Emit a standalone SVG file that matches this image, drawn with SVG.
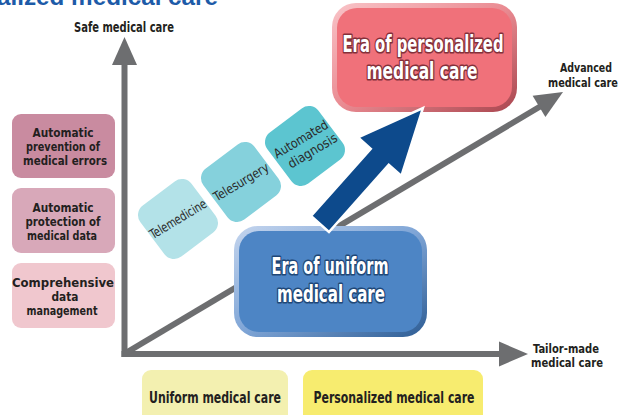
<svg xmlns="http://www.w3.org/2000/svg" width="625" height="415" viewBox="0 0 625 415">
<defs>
<style>
.t{font-family:"Liberation Sans Narrow","DejaVu Sans Condensed","Liberation Sans",Arial,sans-serif;font-weight:bold;fill:#231f20;text-anchor:middle}
.lb{font-size:12.5px}
.ax{stroke:#6d6e70;stroke-width:6;fill:none}
.ah{fill:#6d6e70}
.era{font-family:"Liberation Sans Narrow","DejaVu Sans Condensed","Liberation Sans",Arial,sans-serif;font-weight:bold;font-size:23px;fill:#ffffff;stroke-width:3.2;paint-order:stroke;stroke-linejoin:round;text-anchor:middle}
.cy{font-family:"Liberation Sans Narrow","DejaVu Sans Condensed","Liberation Sans",Arial,sans-serif;font-size:13px;fill:#2a2a2a;text-anchor:middle;dominant-baseline:central}
</style>
<linearGradient id="pinkRim" x1="0" y1="0" x2="1" y2="1">
<stop offset="0" stop-color="#f9c4c8"/><stop offset="0.5" stop-color="#e98a91"/><stop offset="1" stop-color="#a9464f"/>
</linearGradient>
<linearGradient id="blueRim" x1="0" y1="0" x2="1" y2="1">
<stop offset="0" stop-color="#c4d5ee"/><stop offset="0.5" stop-color="#7fa5d6"/><stop offset="1" stop-color="#2e5d94"/>
</linearGradient>
</defs>
<rect width="625" height="415" fill="#ffffff"/>

<text x="-3" y="5" font-family="'Liberation Sans Narrow','Liberation Sans',Arial,sans-serif" font-weight="bold" font-size="24" fill="#1d5ba8" textLength="221" lengthAdjust="spacingAndGlyphs">alized medical care</text>

<g id="connectors">
<line class="ax" x1="124.5" y1="357" x2="124.5" y2="63"/>
<polygon class="ah" points="112,65 124.5,37 137,65"/>
<line class="ax" x1="121.5" y1="354" x2="500" y2="354"/>
<polygon class="ah" points="499,341.5 528,354 499,366.5"/>
<line class="ax" x1="124" y1="354" x2="541" y2="106"/>
<polygon class="ah" points="532.6,95.7 563,92 545.4,117.1"/>
</g>

<g id="axis-labels">
<text class="t" x="124" y="32" font-size="14" textLength="100" lengthAdjust="spacingAndGlyphs">Safe medical care</text>
<text class="t" x="586" y="72" font-size="13" textLength="52" lengthAdjust="spacingAndGlyphs">Advanced</text>
<text class="t" x="583" y="87" font-size="13" textLength="70" lengthAdjust="spacingAndGlyphs">medical care</text>
<text class="t" x="566" y="353" font-size="13" textLength="66" lengthAdjust="spacingAndGlyphs">Tailor-made</text>
<text class="t" x="567" y="367" font-size="13" textLength="72" lengthAdjust="spacingAndGlyphs">medical care</text>
</g>

<g id="box-prevention">
<rect x="12" y="114" width="103" height="64" rx="9" fill="#c98ba0"/>
<text class="t lb" x="63" y="137" textLength="61" lengthAdjust="spacingAndGlyphs">Automatic</text>
<text class="t lb" x="63" y="151" textLength="74" lengthAdjust="spacingAndGlyphs">prevention of</text>
<text class="t lb" x="65" y="165" textLength="84" lengthAdjust="spacingAndGlyphs">medical errors</text>
</g>
<g id="box-protection">
<rect x="12" y="188" width="103" height="65" rx="9" fill="#d8a8b9"/>
<text class="t lb" x="63" y="212" textLength="61" lengthAdjust="spacingAndGlyphs">Automatic</text>
<text class="t lb" x="63" y="226" textLength="75" lengthAdjust="spacingAndGlyphs">protection of</text>
<text class="t lb" x="62" y="240" textLength="70" lengthAdjust="spacingAndGlyphs">medical data</text>
</g>
<g id="box-data">
<rect x="12" y="263" width="103" height="65" rx="9" fill="#f0c7ce"/>
<text class="t lb" x="63" y="287" textLength="102" lengthAdjust="spacingAndGlyphs">Comprehensive</text>
<text class="t lb" x="65" y="301" textLength="27" lengthAdjust="spacingAndGlyphs">data</text>
<text class="t lb" x="62" y="315" textLength="71" lengthAdjust="spacingAndGlyphs">management</text>
</g>

<g id="telemedicine" transform="translate(178,219)">
<rect x="-32" y="-32" width="64" height="64" rx="12" fill="#b3e2e8" transform="rotate(-37)"/>
<text class="cy" transform="rotate(-31)" textLength="64" lengthAdjust="spacingAndGlyphs">Telemedicine</text>
</g>
<g id="telesurgery" transform="translate(241,182)">
<rect x="-32" y="-32" width="64" height="64" rx="12" fill="#85d1dc" transform="rotate(-37)"/>
<text class="cy" transform="rotate(-31)" textLength="62" lengthAdjust="spacingAndGlyphs">Telesurgery</text>
</g>
<g id="automated-diagnosis" transform="translate(305,146)">
<rect x="-32" y="-32" width="64" height="64" rx="12" fill="#5cc5d0" transform="rotate(-37)"/>
<g transform="rotate(-31)">
<text class="cy" x="0" y="-8" textLength="61" lengthAdjust="spacingAndGlyphs">Automated</text>
<text class="cy" x="4" y="8" textLength="55" lengthAdjust="spacingAndGlyphs">diagnosis</text>
</g>
</g>

<g id="era-uniform">
<rect x="234" y="226" width="193" height="111" rx="24" fill="url(#blueRim)"/>
<rect x="239" y="231" width="183" height="101" rx="20" fill="#4d85c5"/>
<text class="era" x="330" y="274" stroke="#1f4777" textLength="117" lengthAdjust="spacingAndGlyphs">Era of uniform</text>
<text class="era" x="331" y="302" stroke="#1f4777" textLength="108" lengthAdjust="spacingAndGlyphs">medical care</text>
</g>

<g id="era-personalized">
<rect x="332" y="3" width="185" height="109" rx="24" fill="url(#pinkRim)"/>
<rect x="337" y="8" width="175" height="99" rx="20" fill="#f0717a"/>
<text class="era" x="423" y="52" stroke="#84303a" textLength="161" lengthAdjust="spacingAndGlyphs">Era of personalized</text>
<text class="era" x="422" y="79" stroke="#84303a" textLength="111" lengthAdjust="spacingAndGlyphs">medical care</text>
</g>

<g id="transition-arrow" transform="translate(320,224) rotate(-48.4)">
<polygon points="0,-12 90,-12 90,-29 155,0 90,29 90,12 0,12" fill="#0d4a8c" stroke="#ffffff" stroke-width="2.5" stroke-linejoin="miter"/>
</g>

<g id="uniform-care">
<rect x="142" y="370" width="146" height="55" rx="9" fill="#f3f0b0"/>
<text class="t" x="215" y="403" font-size="15" textLength="132" lengthAdjust="spacingAndGlyphs">Uniform medical care</text>
</g>
<g id="personalized-care">
<rect x="303" y="370" width="180" height="55" rx="9" fill="#f7ec6f"/>
<text class="t" x="394" y="403" font-size="15" textLength="161" lengthAdjust="spacingAndGlyphs">Personalized medical care</text>
</g>
</svg>
